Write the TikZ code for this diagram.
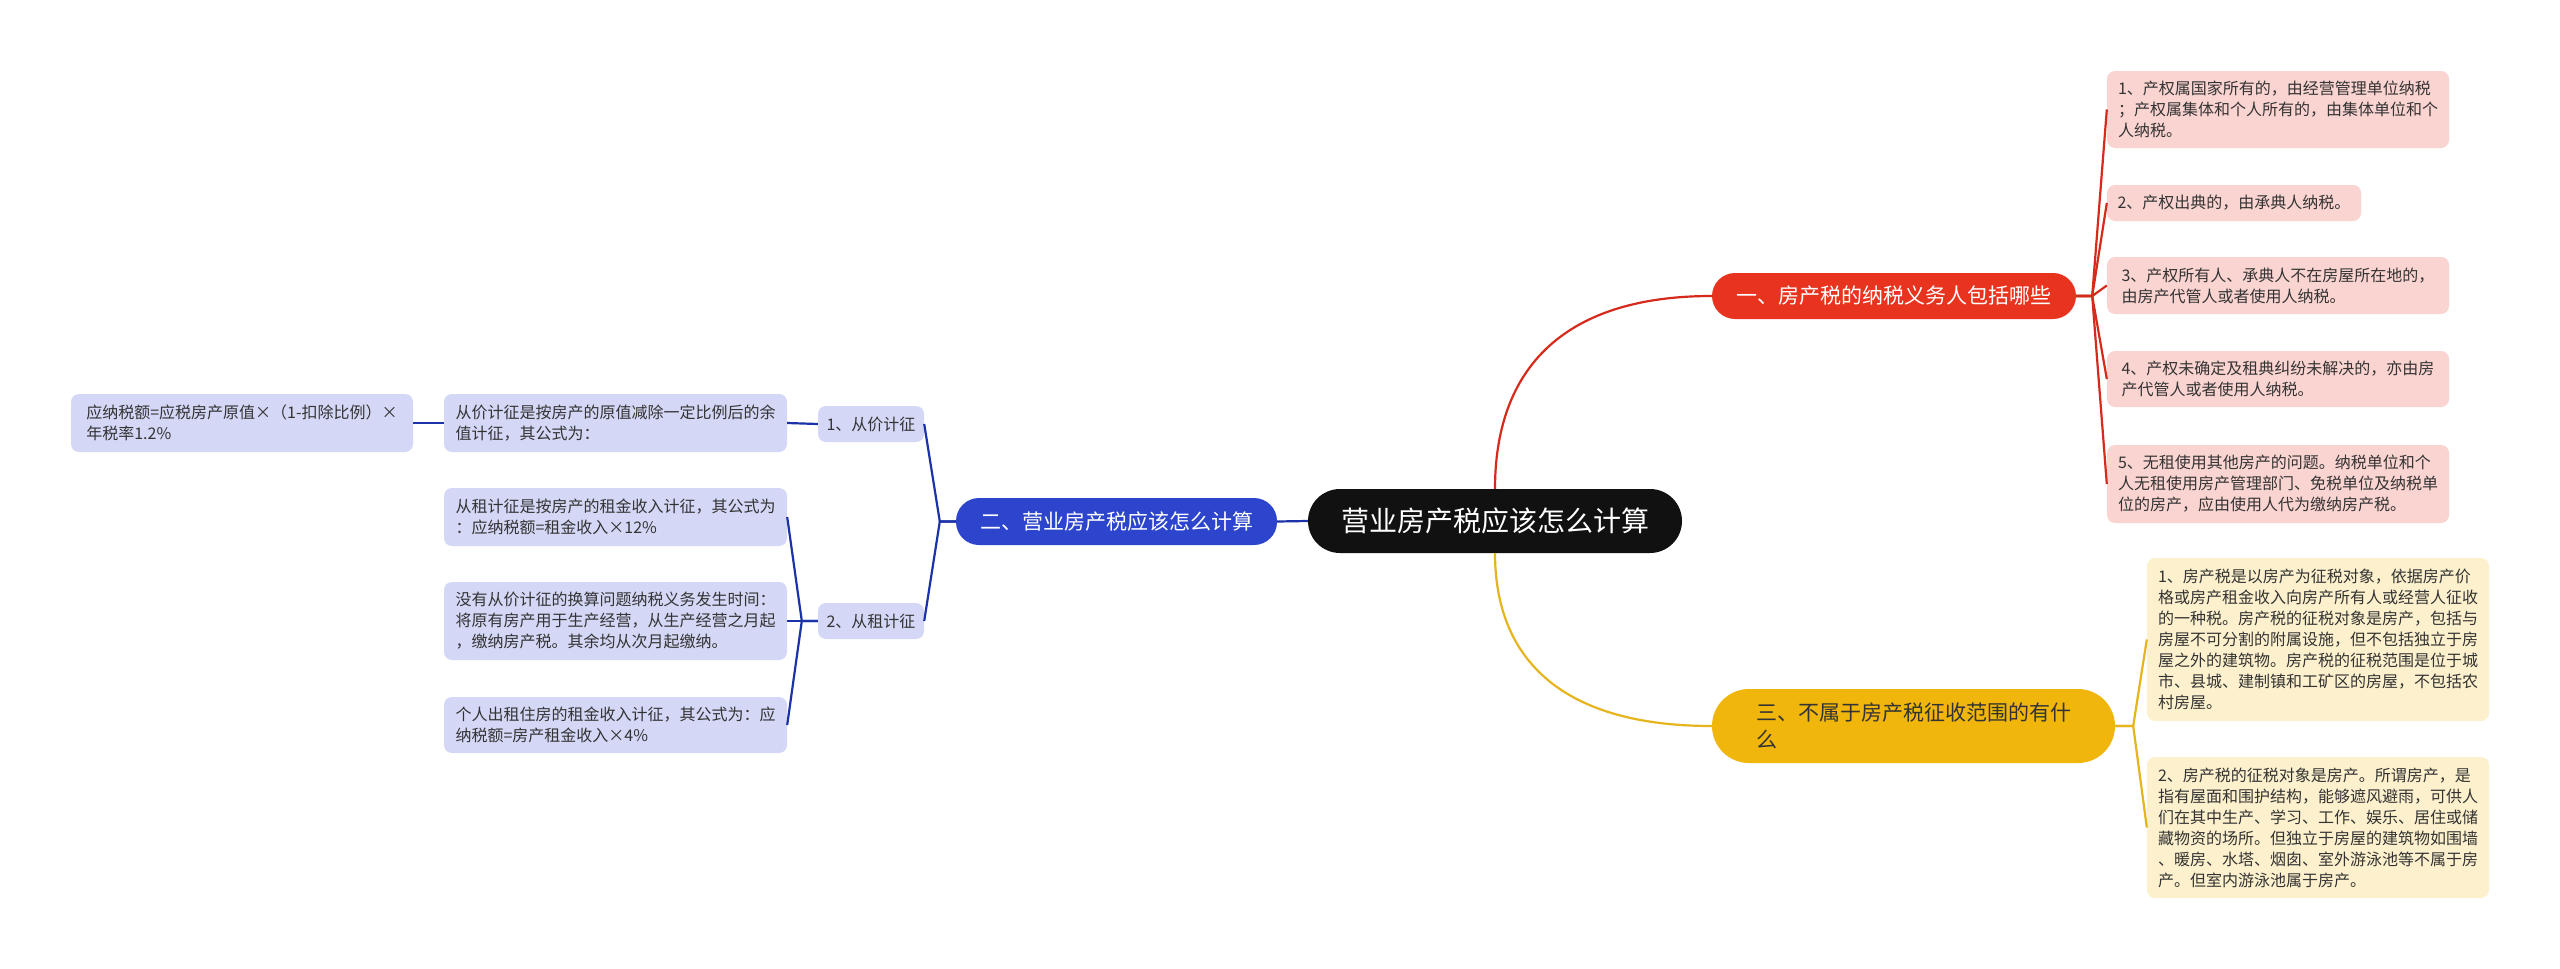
\documentclass[tikz,border=0pt]{standalone}
\usepackage{fontspec}
\setmainfont{Noto Sans CJK SC}
\usetikzlibrary{calc}
\definecolor{rootc}{HTML}{111111}
\definecolor{redmain}{HTML}{E8341F}
\definecolor{redline}{HTML}{D62A1C}
\definecolor{redchild}{HTML}{FAD4D1}
\definecolor{bluemain}{HTML}{2C45CC}
\definecolor{blueline}{HTML}{1C32A8}
\definecolor{bluechild}{HTML}{D4D8F6}
\definecolor{yelmain}{HTML}{F0B60C}
\definecolor{yelline}{HTML}{E6B41C}
\definecolor{yelchild}{HTML}{FDF1CD}
\definecolor{txt}{HTML}{333333}
\begin{document}
\begin{tikzpicture}[x=1pt,y=-1pt,
  cbox/.style={rounded corners=8pt, inner sep=0pt, align=left, text=txt,
    font=\fontsize{16}{21}\selectfont},
  redc/.style={cbox, fill=redchild},
  bluec/.style={cbox, fill=bluechild},
  yelc/.style={cbox, fill=yelchild},
  mainbox/.style={inner sep=0pt, align=left, font=\fontsize{21}{27}\selectfont},
  rl/.style={draw=redline, line width=2.2pt},
  bl/.style={draw=blueline, line width=2.2pt},
  yl/.style={draw=yelline, line width=2.2pt}]
\useasboundingbox (0,0) rectangle (2560,969);
\fill[white] (0,0) rectangle (2560,969);

% root
\node[inner sep=0pt, fill=rootc, text=white, rounded corners=32pt,
  minimum width=374pt, minimum height=64pt, font=\fontsize{28}{32}\selectfont]
  (root) at (1495,521) {营业房产税应该怎么计算};

% main branches
\node[mainbox, fill=redmain, text=white, rounded corners=23pt,
  minimum width=364pt, minimum height=46pt] (a) at (1894,296) {一、房产税的纳税义务人包括哪些};
\node[mainbox, fill=bluemain, text=white, rounded corners=23pt,
  minimum width=321pt, minimum height=47pt] (b) at (1116.5,521.5) {二、营业房产税应该怎么计算};
\node[mainbox, fill=yelmain, text=txt, rounded corners=37pt,
  minimum width=403pt, minimum height=74pt] (c) at (1913.5,726) {三、不属于房产税征收范围的有什\\么};

% red children
\node[redc, minimum width=342pt, minimum height=77pt] (a1) at (2278,109.5)
  {1、产权属国家所有的，由经营管理单位纳税\\；产权属集体和个人所有的，由集体单位和个\\人纳税。};
\node[redc, minimum width=254pt, minimum height=36pt] (a2) at (2234,203)
  {2、产权出典的，由承典人纳税。};
\node[redc, minimum width=342pt, minimum height=57pt] (a3) at (2278,285.5)
  {3、产权所有人、承典人不在房屋所在地的，\\由房产代管人或者使用人纳税。};
\node[redc, minimum width=342pt, minimum height=56pt] (a4) at (2278,379)
  {4、产权未确定及租典纠纷未解决的，亦由房\\产代管人或者使用人纳税。};
\node[redc, minimum width=342pt, minimum height=78pt] (a5) at (2278,484)
  {5、无租使用其他房产的问题。纳税单位和个\\人无租使用房产管理部门、免税单位及纳税单\\位的房产，应由使用人代为缴纳房产税。};

% yellow children
\node[yelc, minimum width=342pt, minimum height=163pt] (c1) at (2318,639.5)
  {1、房产税是以房产为征税对象，依据房产价\\格或房产租金收入向房产所有人或经营人征收\\的一种税。房产税的征税对象是房产，包括与\\房屋不可分割的附属设施，但不包括独立于房\\屋之外的建筑物。房产税的征税范围是位于城\\市、县城、建制镇和工矿区的房屋，不包括农\\村房屋。};
\node[yelc, minimum width=342pt, minimum height=141pt] (c2) at (2318,827.5)
  {2、房产税的征税对象是房产。所谓房产，是\\指有屋面和围护结构，能够遮风避雨，可供人\\们在其中生产、学习、工作、娱乐、居住或储\\藏物资的场所。但独立于房屋的建筑物如围墙\\、暖房、水塔、烟囱、室外游泳池等不属于房\\产。但室内游泳池属于房产。};

% blue children
\node[bluec, minimum width=106pt, minimum height=36pt] (b1) at (871,424) {1、从价计征};
\node[bluec, minimum width=106pt, minimum height=36pt] (b2) at (871,621) {2、从租计征};
\node[bluec, minimum width=343pt, minimum height=58pt] (b1a) at (615.5,423)
  {从价计征是按房产的原值减除一定比例后的余\\值计征，其公式为：};
\node[bluec, minimum width=342pt, minimum height=58pt] (b1b) at (242,423)
  {应纳税额=应税房产原值×（1-扣除比例）×\\年税率1.2\%};
\node[bluec, minimum width=343pt, minimum height=58pt] (b2a) at (615.5,517)
  {从租计征是按房产的租金收入计征，其公式为\\：应纳税额=租金收入×12\%};
\node[bluec, minimum width=343pt, minimum height=78pt] (b2b) at (615.5,621)
  {没有从价计征的换算问题纳税义务发生时间：\\将原有房产用于生产经营，从生产经营之月起\\，缴纳房产税。其余均从次月起缴纳。};
\node[bluec, minimum width=343pt, minimum height=56pt] (b2c) at (615.5,725)
  {个人出租住房的租金收入计征，其公式为：应\\纳税额=房产租金收入×4\%};

% connectors: root to branches
\draw[rl] (root.north) .. controls +(0,-113) and ($(a.west)+(-156,0)$) .. (a.west);
\draw[yl] (root.south) .. controls +(0,101) and ($(c.west)+(-156,0)$) .. (c.west);
\draw[bl] (root.west) -- (b.east);

% red branch
\foreach \k in {a1,a2,a3,a4,a5}{
  \draw[rl] (a.east) -- ($(a.east)+(16,0)$) .. controls ($(a.east)+(16,0)$ |- \k.west) .. (\k.west);
}
% yellow branch
\foreach \k in {c1,c2}{
  \draw[yl] (c.east) -- ($(c.east)+(18,0)$) .. controls ($(c.east)+(18,0)$ |- \k.west) .. (\k.west);
}
% blue branch
\foreach \k in {b1,b2}{
  \draw[bl] (b.west) -- ($(b.west)+(-16,0)$) .. controls ($(b.west)+(-16,0)$ |- \k.east) .. (\k.east);
}
\foreach \k in {b2a,b2b,b2c}{
  \draw[bl] (b2.west) -- ($(b2.west)+(-16,0)$) .. controls ($(b2.west)+(-16,0)$ |- \k.east) .. (\k.east);
}
\draw[bl] (b1.west) -- (b1a.east);
\draw[bl] (b1a.west) -- (b1b.east);
\end{tikzpicture}
\end{document}
